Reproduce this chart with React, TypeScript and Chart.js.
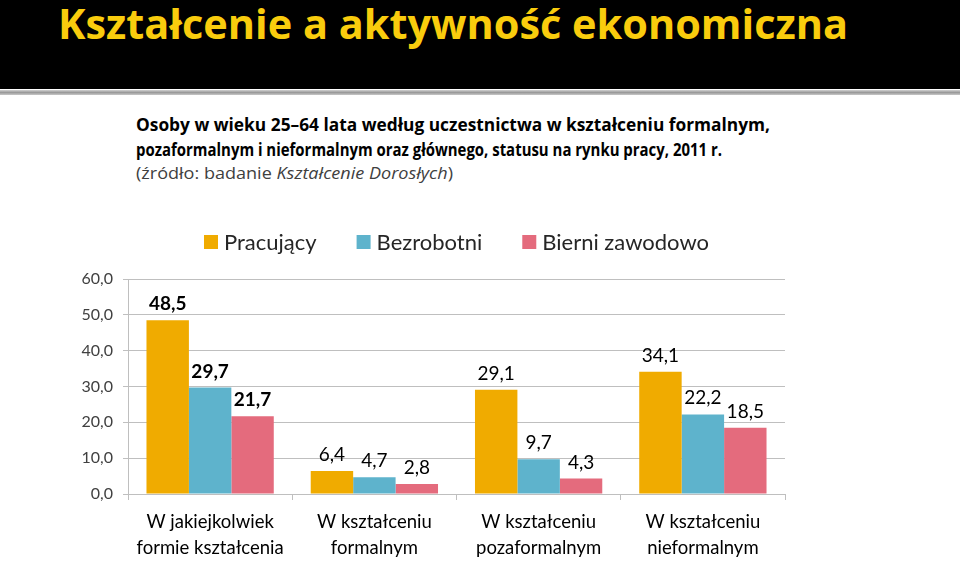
import React, { useEffect, useRef } from "react";
import { Chart, registerables } from "chart.js";

Chart.register(...registerables);

const categories: string[][] = [
  ["W jakiejkolwiek", "formie kształcenia"],
  ["W kształceniu", "formalnym"],
  ["W kształceniu", "pozaformalnym"],
  ["W kształceniu", "nieformalnym"],
];
const seriesNames = ["Pracujący", "Bezrobotni", "Bierni zawodowo"];
const pracujacy = [48.5, 6.4, 29.1, 34.1];
const bezrobotni = [29.7, 4.7, 9.7, 22.2];
const bierni = [21.7, 2.8, 4.3, 18.5];
const seriesColors = ["#F0AB00", "#5EB3CC", "#E46B7D"];
const yTicksMin = 0;
const yTicksMax = 60;
const yTicksStep = 10;

const fmt = (v: number) => v.toFixed(1).replace(".", ",");

const dataLabelPlugin = {
  id: "dataLabels",
  afterDatasetsDraw(chart: any) {
    const ctx = chart.ctx;
    ctx.save();
    chart.data.datasets.forEach((ds: any, di: number) => {
      const meta = chart.getDatasetMeta(di);
      meta.data.forEach((bar: any, i: number) => {
        const v = ds.data[i];
        ctx.font = (i === 0 ? "bold " : "") + "19px Lato";
        ctx.fillStyle = "#000000";
        ctx.textAlign = "center";
        ctx.textBaseline = "alphabetic";
        ctx.fillText(fmt(v), bar.x, bar.y - 10);
      });
    });
    ctx.restore();
  },
};

const legendPlugin = {
  id: "customLegend",
  afterDraw(chart: any) {
    const ctx = chart.ctx;
    const area = chart.chartArea;
    ctx.save();
    ctx.font = "22px Lato";
    const box = 14;
    const gap = 6;
    const spacing = 40;
    const items = chart.data.datasets.map((ds: any) => ({
      label: ds.label,
      color: ds.backgroundColor,
      w: box + gap + ctx.measureText(ds.label).width,
    }));
    const total =
      items.reduce((s: number, it: any) => s + it.w, 0) + spacing * (items.length - 1);
    let x = (area.left + area.right) / 2 - total / 2;
    const cy = area.top - 37;
    items.forEach((it: any) => {
      ctx.fillStyle = it.color;
      ctx.fillRect(x, cy - box / 2, box, box);
      ctx.fillStyle = "#262626";
      ctx.textAlign = "left";
      ctx.textBaseline = "middle";
      ctx.fillText(it.label, x + box + gap, cy + 1);
      x += it.w + spacing;
    });
    ctx.restore();
  },
};

export default function App() {
  const canvasRef = useRef<HTMLCanvasElement | null>(null);

  useEffect(() => {
    if (!canvasRef.current) return;
    const chart = new Chart(canvasRef.current, {
      type: "bar",
      data: {
        labels: categories,
        datasets: [
          { label: seriesNames[0], data: pracujacy, backgroundColor: seriesColors[0] },
          { label: seriesNames[1], data: bezrobotni, backgroundColor: seriesColors[1] },
          { label: seriesNames[2], data: bierni, backgroundColor: seriesColors[2] },
        ],
      },
      options: {
        responsive: false,
        animation: false,
        categoryPercentage: 0.775,
        barPercentage: 1,
        layout: { padding: { top: 279, left: 0, right: 175, bottom: 0 } },
        plugins: {
          legend: { display: false },
          tooltip: { enabled: false },
          title: { display: false },
        },
        scales: {
          x: {
            grid: {
              drawOnChartArea: false,
              drawTicks: true,
              tickLength: 6,
              color: "#BFBFBF",
            },
            border: { display: true, color: "#BFBFBF" },
            ticks: {
              font: { family: "Lato", size: 18.5, lineHeight: 1.42 },
              color: "#000000",
              padding: 9,
              maxRotation: 0,
              autoSkip: false,
            },
            afterFit(scale: any) {
              scale.height = 67;
            },
          },
          y: {
            min: yTicksMin,
            max: yTicksMax,
            ticks: {
              stepSize: yTicksStep,
              font: { family: "Lato", size: 16 },
              color: "#404040",
              padding: 10,
              callback: (v: any) => fmt(Number(v)),
            },
            grid: { color: "#BFBFBF", tickLength: 5 },
            border: { display: true, color: "#BFBFBF" },
            afterFit(scale: any) {
              scale.width = 128;
            },
          },
        },
      },
      plugins: [dataLabelPlugin, legendPlugin],
    } as any);
    return () => chart.destroy();
  }, []);

  return (
    <div
      style={{
        position: "absolute",
        left: 0,
        top: 0,
        width: 960,
        height: 561,
        background: "#ffffff",
        overflow: "hidden",
      }}
    >
      <div
        style={{ position: "absolute", left: 0, top: 0, width: 960, height: 89, background: "#000000" }}
      />
      <div
        style={{
          position: "absolute",
          left: 0,
          top: 90,
          width: 960,
          height: 5,
          background: "linear-gradient(#d0d0d0, #9a9a9a, #c8c8c8)",
        }}
      />
      <svg
        width={960}
        height={200}
        style={{ position: "absolute", left: 0, top: 0 }}
      >
        <text
          x={58}
          y={39}
          fontFamily="Open Sans"
          fontWeight={700}
          fontSize={41}
          fill="#F9CC0D"
          textLength={790}
          lengthAdjust="spacingAndGlyphs"
        >
          Kształcenie a aktywność ekonomiczna
        </text>
        <text
          x={136}
          y={131}
          fontFamily="Open Sans"
          fontWeight={700}
          fontSize={17}
          fill="#000000"
          textLength={634}
          lengthAdjust="spacingAndGlyphs"
        >
          Osoby w wieku 25–64 lata według uczestnictwa w kształceniu formalnym,
        </text>
        <text
          x={136}
          y={156}
          fontFamily="Open Sans"
          fontWeight={700}
          fontSize={17}
          fill="#000000"
          textLength={586}
          lengthAdjust="spacingAndGlyphs"
        >
          pozaformalnym i nieformalnym oraz głównego, statusu na rynku pracy, 2011 r.
        </text>
        <text
          x={136}
          y={179}
          fontFamily="Open Sans"
          fontSize={17}
          fill="#404040"
          textLength={317}
          lengthAdjust="spacingAndGlyphs"
        >
          (źródło: badanie <tspan fontStyle="italic">Kształcenie Dorosłych</tspan>)
        </text>
      </svg>
      <canvas
        ref={canvasRef}
        width={960}
        height={561}
        style={{ position: "absolute", left: 0, top: 0, width: 960, height: 561 }}
      />
    </div>
  );
}
